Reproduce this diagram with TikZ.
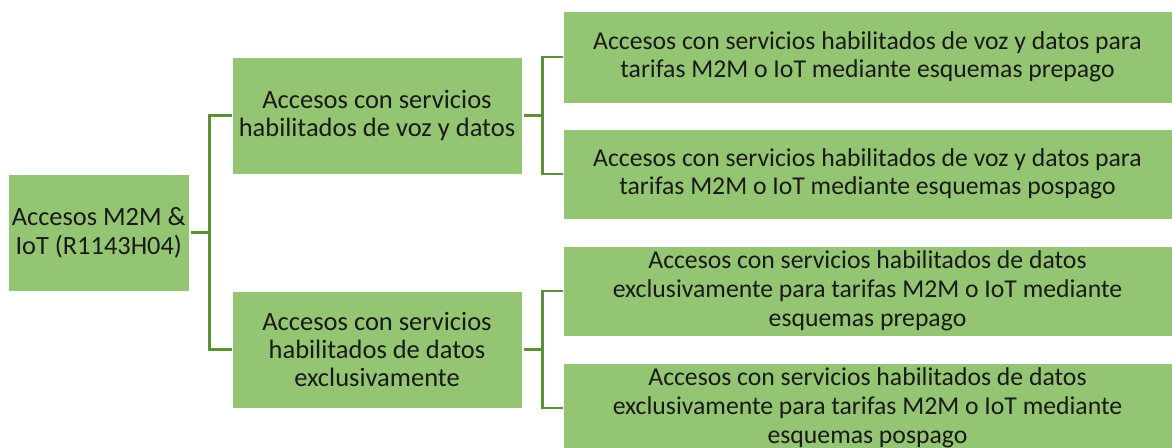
\documentclass[tikz,border=0pt]{standalone}
\usepackage{fontspec}
\setmainfont{Carlito}
\definecolor{boxfill}{HTML}{93C572}
\definecolor{linegreen}{HTML}{5B9037}
\definecolor{txt}{HTML}{1A1A1A}
\begin{document}
\begin{tikzpicture}[x=1pt,y=-1pt,
  box/.style={fill=boxfill, draw=white, line width=0.8pt, inner sep=0pt, align=center, text=txt},
  fleafa/.style={font=\fontsize{25.7}{27.5}\selectfont},
  fleafb/.style={font=\fontsize{25.7}{29}\selectfont},
  fmid/.style={font=\fontsize{26.5}{28}\selectfont},
  froot/.style={font=\fontsize{26.4}{29}\selectfont},
  conn/.style={draw=linegreen, line width=2.6pt}]
\useasboundingbox (0,0) rectangle (1172,447);
\begin{scope}
\clip (0,0) rectangle (1172,447);
\node[box,froot,minimum width=180.5pt,minimum height=117pt] (root) at (98.75,232.5) {Accesos M2M \&\\IoT (R1143H04)};
\node[box,fmid,minimum width=290pt,minimum height=117pt] (mid1) at (377,115.5) {Accesos con servicios\\habilitados de voz y datos};
\node[box,fmid,minimum width=290pt,minimum height=117pt] (mid2) at (377,349.5) {Accesos con servicios\\habilitados de datos\\exclusivamente};
\node[box,fleafa,minimum width=609pt,minimum height=92pt] (leaf1) at (867.5,57) {Accesos con servicios habilitados de voz y datos para\\tarifas M2M o IoT mediante esquemas prepago};
\node[box,fleafa,minimum width=609pt,minimum height=90pt] (leaf2) at (867.5,174) {Accesos con servicios habilitados de voz y datos para\\tarifas M2M o IoT mediante esquemas pospago};
\node[box,fleafb,minimum width=609pt,minimum height=90pt] (leaf3) at (867.5,291) {Accesos con servicios habilitados de datos\\exclusivamente para tarifas M2M o IoT mediante\\esquemas prepago};
\node[box,fleafb,minimum width=609pt,minimum height=90pt] (leaf4) at (867.5,408) {Accesos con servicios habilitados de datos\\exclusivamente para tarifas M2M o IoT mediante\\esquemas pospago};
\end{scope}
\draw[conn] (root.east) ++(2,0) -- ++(20,0);
\draw[conn] (mid1.west) -- ++(-22,0) |- (mid2.west);
\draw[conn] (mid1.east) ++(2,0) -- ++(19,0);
\draw[conn] (leaf1.west) -- ++(-20,0) |- (leaf2.west);
\draw[conn] (mid2.east) ++(2,0) -- ++(19,0);
\draw[conn] (leaf3.west) -- ++(-20,0) |- (leaf4.west);
\end{tikzpicture}
\end{document}
